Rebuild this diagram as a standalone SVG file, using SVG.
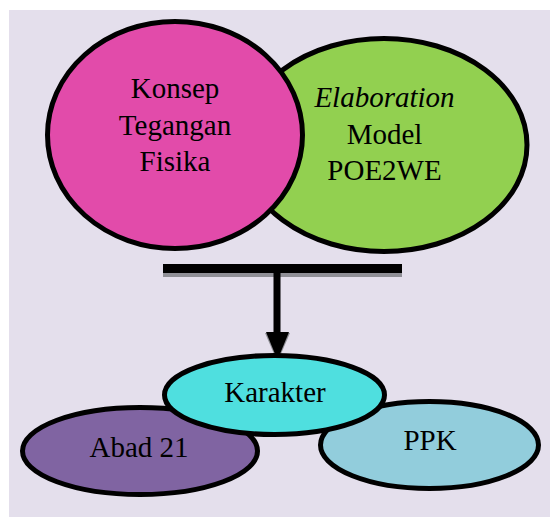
<svg xmlns="http://www.w3.org/2000/svg" width="550" height="517" viewBox="0 0 550 517">
<style>
.node{stroke:#000;stroke-width:5}
.lbl{font-family:"Liberation Serif","Times New Roman",serif;font-size:29px;fill:#000;text-anchor:middle}
</style>
<rect x="0" y="0" width="550" height="517" fill="#ffffff"/>
<rect x="9" y="10" width="541" height="507" fill="#E4DFEC"/>
<g id="node-elaboration">
<ellipse class="node" cx="384" cy="145" rx="143" ry="106.5" fill="#92D050"/>
<text class="lbl" x="384.5" y="107" font-style="italic">Elaboration</text>
<text class="lbl" x="384.5" y="144">Model</text>
<text class="lbl" x="384.5" y="180">POE2WE</text>
</g>
<g id="node-konsep">
<ellipse class="node" cx="175" cy="135" rx="127.5" ry="113.5" fill="#E24BAA"/>
<text class="lbl" x="175" y="98">Konsep</text>
<text class="lbl" x="175" y="135">Tegangan</text>
<text class="lbl" x="175" y="171">Fisika</text>
</g>
<g id="connectors">
<rect x="163" y="268" width="239" height="9" fill="#8F8F96"/>
<rect x="163" y="264" width="239" height="9" fill="#000"/>
<polygon points="265,333 290,333 277.5,362" fill="#8F8F96"/>
<rect x="273.5" y="273" width="7" height="60" fill="#000"/>
<polygon points="266,332 289,332 277.5,360" fill="#000"/>
</g>
<g id="node-abad21">
<ellipse class="node" cx="140" cy="451" rx="117.5" ry="43.5" fill="#8064A2"/>
<text class="lbl" x="139" y="457">Abad 21</text>
</g>
<g id="node-ppk">
<ellipse class="node" cx="429.5" cy="445" rx="109" ry="43.5" fill="#92CDDC"/>
<text class="lbl" x="430" y="450">PPK</text>
</g>
<g id="node-karakter">
<ellipse class="node" cx="274.5" cy="395" rx="110" ry="39.5" fill="#4FDFDF"/>
<text class="lbl" x="275" y="402">Karakter</text>
</g>
</svg>
